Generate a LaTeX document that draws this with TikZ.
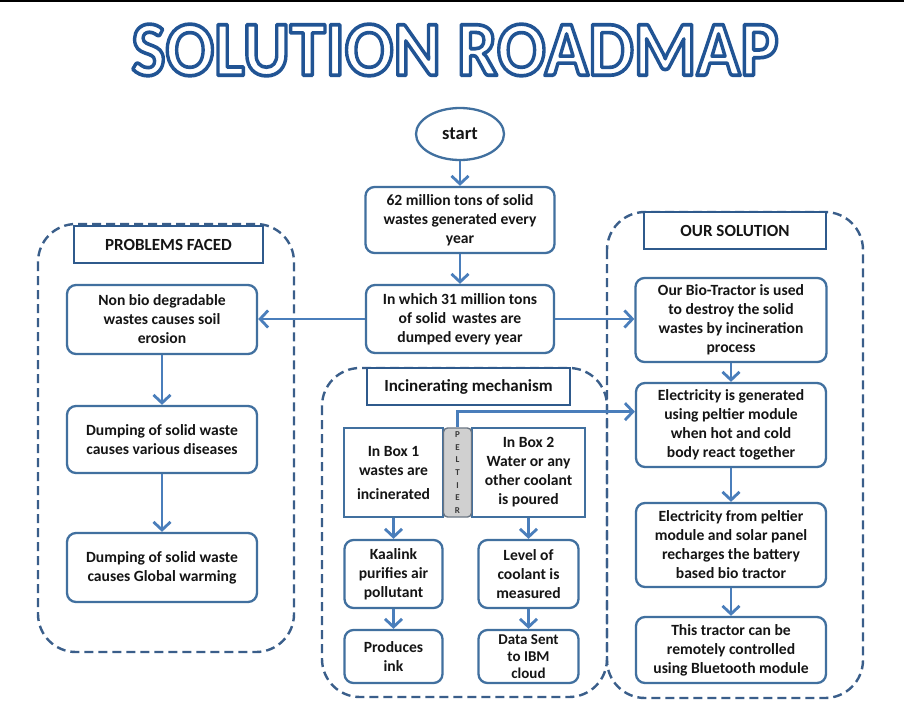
\documentclass[tikz,border=0pt]{standalone}
\usepackage{fontspec}
\usepackage{graphicx}
\setmainfont{Carlito}
\usetikzlibrary{arrows.meta,shapes.geometric,calc}
\definecolor{arrc}{HTML}{4A7EBB}
\definecolor{boxc}{HTML}{41709F}
\definecolor{headc}{HTML}{2F5A8C}
\definecolor{contc}{HTML}{3A5E8A}
\definecolor{txt}{HTML}{151515}
\definecolor{pelfill}{HTML}{D0D0D0}
\definecolor{pelc}{HTML}{6A7684}
\newcommand\bodyf{\fontsize{15.6}{19}\selectfont\bfseries\color{txt}}
\newcommand\headf{\fontsize{17}{19}\selectfont\bfseries\color{txt}}
\newcommand\outlinetext[1]{\color{white}\special{pdf:literal direct 0.13 0.33 0.58 RG 3 w 1 j 2 Tr}#1\special{pdf:literal direct 0 Tr}}
\tikzset{
  rbox/.style={draw=boxc, line width=2.3pt, rounded corners=9pt, fill=white, align=center, font=\bodyf, inner sep=0pt},
  sbox/.style={draw=boxc, line width=2.3pt, fill=white, align=center, font=\bodyf, inner sep=0pt},
  hbox/.style={draw=headc, line width=2.6pt, fill=white, align=center, font=\headf, inner sep=0pt},
  cont/.style={draw=contc, line width=2.4pt, dash pattern=on 9pt off 5pt, rounded corners=38pt},
  arr/.style={draw=arrc, line width=2.8pt, -{Straight Barb[length=8pt,width=17pt]}},
}
\begin{document}
\begin{tikzpicture}[x=1pt,y=-1pt]
\useasboundingbox (0,0) rectangle (904,720);
\fill[white] (0,0) rectangle (904,720);
\draw[line width=2pt,black] (0,1) -- (904,1);

% title
\node[inner sep=0pt] (title) at (455,50) {\scalebox{1.125}[1.22]{\fontsize{64}{64}\selectfont\bfseries\outlinetext{SOLUTION ROADMAP}}};

% containers
\draw[cont] (38,224) rectangle (294,652);
\draw[cont] (607,212) rectangle (863,698);
\draw[cont] (322,368) rectangle (607,697);

% headers
\node[hbox, minimum width=189pt, minimum height=37pt] (probh) at (168.5,244.5) {PROBLEMS FACED};
\node[hbox, minimum width=182pt, minimum height=37pt] (solh) at (735,230.5) {OUR SOLUTION};
\node[hbox, minimum width=203pt, minimum height=37pt] (inch) at (468.5,386.5) {Incinerating mechanism};

% centre column
\node[ellipse, draw=boxc, line width=2.3pt, fill=white, minimum width=88pt, minimum height=52pt, font=\fontsize{18.5}{20}\selectfont\bfseries\color{txt}, inner sep=0pt] (start) at (460,134) {start};
\node[rbox, minimum width=189pt, minimum height=66pt] (g62) at (460,220) {62 million tons of solid\\wastes generated every\\year};
\node[rbox, minimum width=188pt, minimum height=68pt] (d31) at (460,319) {In which 31 million tons\\of solid\, wastes are\\dumped every year};

% left column
\node[rbox, minimum width=190pt, minimum height=69pt] (nonbio) at (162,319.5) {Non bio degradable\\wastes causes soil\\erosion};
\node[rbox, minimum width=190pt, minimum height=67pt] (dis) at (162,439.5) {Dumping of solid waste\\causes various diseases};
\node[rbox, minimum width=190pt, minimum height=69pt] (glob) at (162,567.5) {Dumping of solid waste\\causes Global warming};

% right column
\node[rbox, minimum width=191pt, minimum height=84pt] (bio) at (731,320) {Our Bio-Tractor is used\\to destroy the solid\\wastes by incineration\\process};
\node[rbox, minimum width=190pt, minimum height=84pt] (elec) at (731,425) {Electricity is generated\\using peltier module\\when hot and cold\\body react together};
\node[rbox, minimum width=190pt, minimum height=84pt] (elec2) at (731,545) {Electricity from peltier\\module and solar panel\\recharges the battery\\based bio tractor};
\node[rbox, minimum width=190pt, minimum height=66pt] (tract) at (731,650) {This tractor can be\\remotely controlled\\using Bluetooth module};

% incinerating mechanism
\node[sbox, minimum width=99pt, minimum height=89pt] (b1) at (393.5,472.5) {In Box 1\\wastes are\\[5pt]incinerated};
\node[sbox, minimum width=113pt, minimum height=89pt] (b2) at (528.5,472.5) {In Box 2\\Water or any\\other coolant\\is poured};
\node[draw=pelc, fill=pelfill, line width=1.4pt, rounded corners=4pt, minimum width=28pt, minimum height=89pt, align=center, inner sep=0pt, font=\fontsize{9}{12.6}\selectfont\bfseries\color{txt!85}] (pel) at (457.5,472.5) {P\\E\\L\\T\\I\\E\\R};
\node[rbox, minimum width=98pt, minimum height=68pt] (kaa) at (393.5,574) {Kaalink\\purifies air\\pollutant};
\node[rbox, minimum width=98pt, minimum height=53pt] (ink) at (393.5,656.5) {Produces\\ink};
\node[rbox, minimum width=100pt, minimum height=68pt] (lev) at (528.5,574) {Level of\\coolant is\\measured};
\node[rbox, minimum width=100pt, minimum height=53pt, font=\fontsize{15}{17}\selectfont\bfseries\color{txt}] (data) at (528.5,656.5) {Data Sent\\to IBM\\cloud};

% connectors
\draw[arr] (start) -- (g62);
\draw[arr] (g62) -- (d31);
\draw[arr] (d31.west) -- (d31.west -| nonbio.east);
\draw[arr] (d31.east) -- (d31.east -| bio.west);
\draw[arr] (nonbio) -- (dis);
\draw[arr] (dis) -- (glob);
\draw[arr] (bio) -- (elec);
\draw[arr] (elec) -- (elec2);
\draw[arr] (elec2) -- (tract);
\draw[arr] (b1) -- (kaa);
\draw[arr] (kaa) -- (ink);
\draw[arr] (b2) -- (lev);
\draw[arr] (lev) -- (data);
\coordinate (elecin) at ($(elec.north west)!0.345!(elec.south west)$);
\draw[arr] (pel.north) |- (elecin);
\end{tikzpicture}
\end{document}
